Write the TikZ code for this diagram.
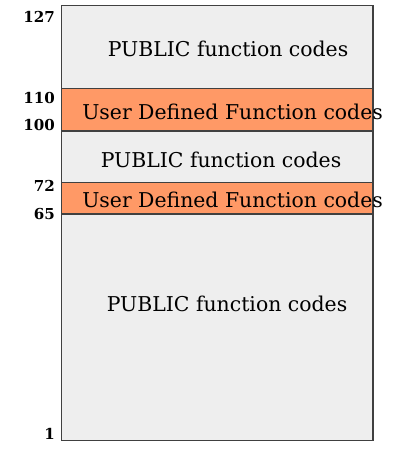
\documentclass[tikz,border=0pt]{standalone}
\usepackage{fontspec}
\setmainfont{DejaVu Serif}
\definecolor{bandgrey}{HTML}{EEEEEE}
\definecolor{bandorange}{HTML}{FF9966}
\definecolor{edgegrey}{HTML}{404040}
\begin{document}
\begin{tikzpicture}[x=0.75pt,y=-0.75pt,
  band/.style={draw=edgegrey,line width=0.9pt},
  numlabel/.style={anchor=east,font=\fontsize{11.3}{13}\selectfont\bfseries,inner sep=0pt},
  bandtext/.style={font=\fontsize{15.3}{17}\selectfont,inner sep=0pt}]
\useasboundingbox (0,0) rectangle (408,452);
\fill[bandgrey] (61.5,5.5) rectangle (373,440.5);
\draw[band,fill=bandorange] (61.5,88.5) rectangle (373,131);
\draw[band,fill=bandorange] (61.5,182.5) rectangle (373,214);
\draw[band] (61.5,5.5) rectangle (373,440.5);
\node[bandtext] (t1) at (228,49) {PUBLIC function codes};
\node[bandtext,anchor=west] (t2) at (82,112) {User Defined Function codes};
\node[bandtext] (t3) at (221,160) {PUBLIC function codes};
\node[bandtext,anchor=west] (t4) at (82,200) {User Defined Function codes};
\node[bandtext] (t5) at (227,304) {PUBLIC function codes};
\node[numlabel] (n127) at (55,17) {127};
\node[numlabel] (n110) at (55,98) {110};
\node[numlabel] (n100) at (55,125) {100};
\node[numlabel] (n72) at (55,186) {72};
\node[numlabel] (n65) at (55,214) {65};
\node[numlabel] (n1) at (55,434) {1};
\end{tikzpicture}
\end{document}
